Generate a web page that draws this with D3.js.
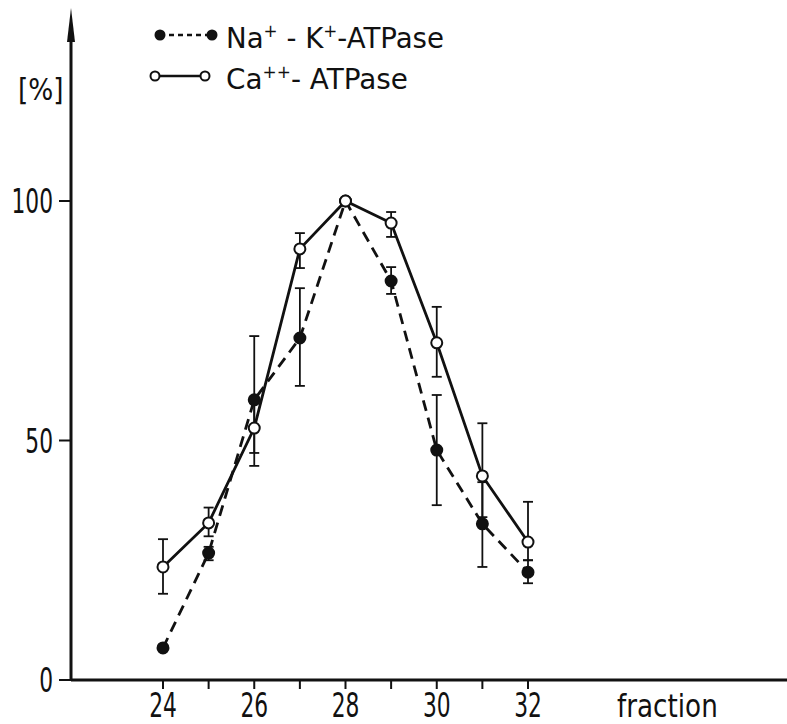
<!DOCTYPE html>
<html>
<head>
<meta charset="utf-8">
<script src="https://cdn.jsdelivr.net/npm/d3@7"></script>
<style>
  body { margin: 0; background: #fff; }
  text { font-family: "DejaVu Sans", sans-serif; fill: #111; }
</style>
</head>
<body>
<div id="chart"></div>
<script>
// Data
var fractions   = [ 24, 25, 26, 27, 28, 29, 30, 31, 32 ];
var naK         = [ 6.7, 26.5, 58.5, 71.4, 100, 83.3, 48, 32.6, 22.5 ];
var naK_hi      = [ null, 27.8, 71.8, 81.8, null, 86.2, 59.5, 41.3, 25 ];
var naK_lo      = [ null, 25, 44.7, 61.4, null, 80.6, 36.5, 23.6, 20.2 ];
var ca          = [ 23.6, 32.8, 52.6, 90, 100, 95.4, 70.4, 42.6, 28.8 ];
var ca_hi       = [ 29.4, 36, 57.8, 93.3, null, 97.7, 77.9, 53.6, 37.2 ];
var ca_lo       = [ 18, 30, 47.4, 86, null, 92.5, 63.3, 34, 25 ];
var y_ticks     = [ 0, 50, 100 ];
var x_labels    = [ 24, 26, 28, 30, 32 ];

var chart_width  = 787;
var chart_height = 724;

// scales
var x = d3.scaleLinear().domain([24, 32]).range([163, 528]);
var y = d3.scaleLinear().domain([0, 100]).range([680, 201]);

var svg = d3.select('#chart')
    .append('svg')
    .attr('width', chart_width)
    .attr('height', chart_height);

// narrow text helper (the original lettering is condensed)
function label(txt, px, py, size, sx, anchor){
    return svg.append('text')
        .attr('transform', 'translate(' + px + ',' + py + ') scale(' + sx + ',1)')
        .attr('text-anchor', anchor || 'start')
        .attr('font-size', size)
        .text(txt);
}

// axes
var axis_x = 71, axis_y = y(0);
svg.append('line')
    .attr('x1', axis_x).attr('x2', 787)
    .attr('y1', axis_y).attr('y2', axis_y)
    .attr('stroke', '#111').attr('stroke-width', 3);
svg.append('line')
    .attr('x1', axis_x).attr('x2', axis_x)
    .attr('y1', axis_y).attr('y2', 28)
    .attr('stroke', '#111').attr('stroke-width', 3);
svg.append('path')
    .attr('d', 'M' + (axis_x - 4) + ',42 L' + axis_x + ',8 L' + (axis_x + 4) + ',42 Z')
    .attr('fill', '#111');

// y ticks
svg.selectAll('line.ytick')
    .data(y_ticks)
    .enter()
    .append('line')
    .attr('class', 'ytick')
    .attr('x1', axis_x - 12).attr('x2', axis_x)
    .attr('y1', function(d){ return y(d); })
    .attr('y2', function(d){ return y(d); })
    .attr('stroke', '#111').attr('stroke-width', 2);
y_ticks.forEach(function(d){
    label(d, 53, y(d) + 12, 33, 0.66, 'end');
});

// x ticks
svg.selectAll('line.xtick')
    .data(fractions)
    .enter()
    .append('line')
    .attr('class', 'xtick')
    .attr('x1', function(d){ return x(d); })
    .attr('x2', function(d){ return x(d); })
    .attr('y1', axis_y).attr('y2', axis_y + 9)
    .attr('stroke', '#111').attr('stroke-width', 2);
x_labels.forEach(function(d){
    label(d, x(d), 717, 33, 0.66, 'middle');
});
label('fraction', 617, 717, 32, 0.82);
label('[%]', 18, 100, 31, 0.85);

// series
var series = [
    { vals: naK, hi: naK_hi, lo: naK_lo, dash: '11,7', fill: '#111' },
    { vals: ca,  hi: ca_hi,  lo: ca_lo,  dash: null,   fill: '#fff' }
];

var line = d3.line()
    .x(function(d){ return x(d.f); })
    .y(function(d){ return y(d.v); });

series.forEach(function(s){
    var pts = fractions.map(function(f, i){
        return { f: f, v: s.vals[i], hi: s.hi[i], lo: s.lo[i] };
    });
    // error bars
    var eb = pts.filter(function(d){ return d.hi != null; });
    var g = svg.append('g');
    g.selectAll('line.eb')
        .data(eb).enter().append('line')
        .attr('x1', function(d){ return x(d.f); })
        .attr('x2', function(d){ return x(d.f); })
        .attr('y1', function(d){ return y(d.hi); })
        .attr('y2', function(d){ return y(d.lo); })
        .attr('stroke', '#111').attr('stroke-width', 1.8);
    ['hi', 'lo'].forEach(function(k){
        g.selectAll('line.cap' + k)
            .data(eb).enter().append('line')
            .attr('x1', function(d){ return x(d.f) - 5; })
            .attr('x2', function(d){ return x(d.f) + 5; })
            .attr('y1', function(d){ return y(d[k]); })
            .attr('y2', function(d){ return y(d[k]); })
            .attr('stroke', '#111').attr('stroke-width', 1.8);
    });
    svg.append('path')
        .datum(pts)
        .attr('d', line)
        .attr('fill', 'none')
        .attr('stroke', '#111')
        .attr('stroke-width', 2.8)
        .attr('stroke-dasharray', s.dash);
    s.pts = pts;
});

series.forEach(function(s){
    svg.selectAll(null)
        .data(s.pts).enter().append('circle')
        .attr('cx', function(d){ return x(d.f); })
        .attr('cy', function(d){ return y(d.v); })
        .attr('r', 5.5)
        .attr('fill', s.fill)
        .attr('stroke', '#111')
        .attr('stroke-width', 2);
});

// legend
var legend = [
    { parts: [['Na', 0], ['+', 1], [' - K', 0], ['+', 1], ['-ATPase', 0]], dash: '5,4', fill: '#111',
      y: 35, x1: 160, x2: 212, len: 218 },
    { parts: [['Ca', 0], ['++', 1], ['- ATPase', 0]], dash: null, fill: '#fff',
      y: 76, x1: 155, x2: 205, len: 182 }
];
legend.forEach(function(l){
    svg.append('line')
        .attr('x1', l.x1).attr('x2', l.x2)
        .attr('y1', l.y).attr('y2', l.y)
        .attr('stroke', '#111').attr('stroke-width', 2.4)
        .attr('stroke-dasharray', l.dash);
    [l.x1, l.x2].forEach(function(cx){
        svg.append('circle')
            .attr('cx', cx).attr('cy', l.y).attr('r', 4.5)
            .attr('fill', l.fill).attr('stroke', '#111').attr('stroke-width', 2);
    });
    var t = svg.append('text')
        .attr('x', 226).attr('y', l.y + 13)
        .attr('font-size', 28)
        .attr('textLength', l.len)
        .attr('lengthAdjust', 'spacingAndGlyphs');
    var up = false;
    l.parts.forEach(function(p){
        var ts = t.append('tspan').text(p[0]);
        if (p[1] && !up) { ts.attr('dy', -11).attr('font-size', 17); up = true; }
        else if (p[1]) { ts.attr('font-size', 17); }
        else if (up) { ts.attr('dy', 11); up = false; }
    });
});
</script>
</body>
</html>
